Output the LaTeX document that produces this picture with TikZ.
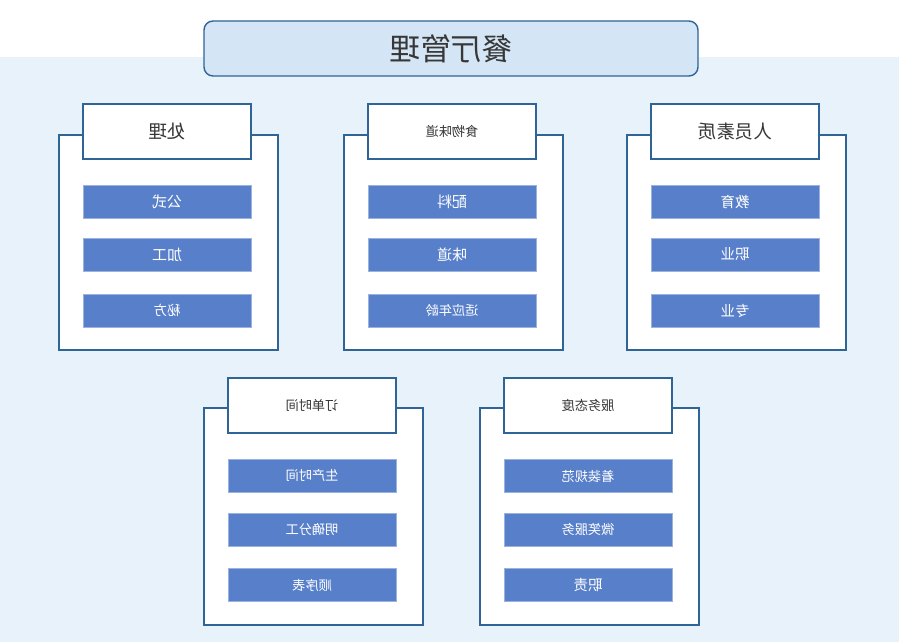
\documentclass[tikz,border=0pt]{standalone}
\usepackage{fontspec}
\usepackage{graphicx}
\setmainfont{Noto Sans CJK SC}
\definecolor{edgeblue}{RGB}{47,100,150}
\definecolor{barblue}{RGB}{88,127,201}
\definecolor{paleblue}{RGB}{232,242,251}
\definecolor{titleblue}{RGB}{212,229,245}
\definecolor{textgray}{RGB}{55,55,55}
\newcommand{\flip}[1]{\scalebox{-1}[1]{#1}}

\begin{document}
\begin{tikzpicture}[x=1pt,y=-1pt,
    title/.style={
% The shape:
rectangle, rounded corners=9pt,
% The size:
minimum width=494pt, minimum height=55pt,
% The border:
line width=1.4pt, draw=edgeblue, fill=titleblue,
% The text:
text=textgray, font=\fontsize{30.5}{32}\selectfont,
},
    panel/.style={
% The shape:
rectangle,
% The size:
minimum width=219pt, minimum height=#1,
% The border:
line width=1.2pt, draw=edgeblue, fill=white,
},
    header/.style={
% The shape:
rectangle,
% The size:
minimum width=168pt, minimum height=55pt,
% The border:
line width=1.2pt, draw=edgeblue, fill=white,
% The text:
text=textgray, font=\fontsize{13.2}{15}\selectfont,
},
    bar/.style={
% The shape:
rectangle,
% The size:
minimum width=168pt, minimum height=33pt,
% The border:
thin, draw=barblue!60!white, fill=barblue,
% The text:
text=white, font=\fontsize{13.2}{15}\selectfont,
},
    big/.style={font=\fontsize{#1}{20}\selectfont},
]
  % background
  \fill[white] (0,0) rectangle (899,642);
  \fill[paleblue] (0,57) rectangle (899,642);
  \useasboundingbox (0,0) rectangle (899,642);

  \node[title] (T) at (451,48.5) {\flip{餐厅管理}};

  % upper row
  \node[panel=215pt] (P1) at (168.5,242.5) {};
  \node[header, big=18.5] (H1) at (167,131.5) {\flip{处理}};
  \node[bar, big=15] (A1) at (167,201.5) {\flip{公式}};
  \node[bar, big=15] (A2) at (167,254.5) {\flip{加工}};
  \node[bar, big=13.5] (A3) at (167,310.5) {\flip{秘方}};

  \node[panel=215pt] (P2) at (453.5,242.5) {};
  \node[header] (H2) at (452,131.5) {\flip{食物味道}};
  \node[bar, big=15] (B1) at (452,201.5) {\flip{配料}};
  \node[bar, big=15] (B2) at (452,254.5) {\flip{味道}};
  \node[bar] (B3) at (452,310.5) {\flip{适应年龄}};

  \node[panel=215pt] (P3) at (736.5,242.5) {};
  \node[header, big=18.5] (H3) at (735,131.5) {\flip{人员素质}};
  \node[bar, big=14.5] (C1) at (735,201.5) {\flip{教育}};
  \node[bar, big=14.5] (C2) at (735,254.5) {\flip{职业}};
  \node[bar, big=14.5] (C3) at (735,310.5) {\flip{专业}};

  % lower row
  \node[panel=217pt] (P4) at (313.5,516.5) {};
  \node[header] (H4) at (312,405.5) {\flip{订单时间}};
  \node[bar] (D1) at (312,476) {\flip{生产时间}};
  \node[bar] (D2) at (312,529.5) {\flip{明确分工}};
  \node[bar] (D3) at (312,585) {\flip{顺序表}};

  \node[panel=217pt] (P5) at (589.5,516.5) {};
  \node[header] (H5) at (588,405.5) {\flip{服务态度}};
  \node[bar] (E1) at (588,476) {\flip{着装规范}};
  \node[bar] (E2) at (588,529.5) {\flip{微笑服务}};
  \node[bar, big=14.5] (E3) at (588,585) {\flip{职责}};

\end{tikzpicture}
\end{document}
